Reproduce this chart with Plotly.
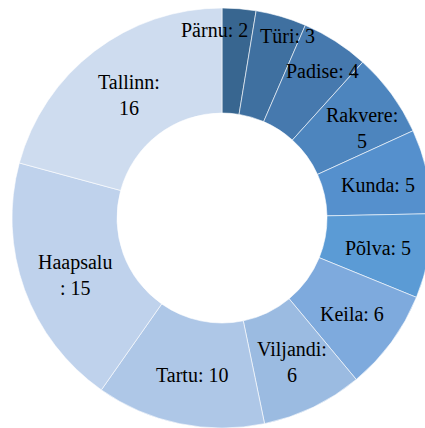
import math
import plotly.graph_objects as go

labels = ["Pärnu", "Türi", "Padise", "Rakvere", "Kunda", "Põlva", "Keila",
          "Viljandi", "Tartu", "Haapsalu", "Tallinn"]
values = [2, 3, 4, 5, 5, 5, 6, 6, 10, 15, 16]
colors = ["#386690", "#3F70A0", "#4679AE", "#4D85BE", "#5590CD", "#5B9BD5",
          "#7EAADD", "#9BBBE1", "#AEC7E7", "#BFD2EC", "#CEDCEF"]
# label text layout (line breaks as in the reference)
label_text = ["Pärnu: 2", "Türi: 3", "Padise: 4", "Rakvere:<br>5", "Kunda: 5",
              "Põlva: 5", "Keila: 6", "Viljandi:<br>6", "Tartu: 10",
              "Haapsalu<br>: 15", "Tallinn:<br>16"]
# per-label pixel nudges (dx, dy)
label_nudge = [(-20, -31), (21, -31), (15, -15), (13, 3), (2, 2), (1, 1),
               (3, 3), (2, 2), (2, 3), (1, 3), (3, 2)]

W, H = 444, 428
CX, CY, R, HOLE = 222, 218, 210, 0.5

fig = go.Figure(go.Pie(
    labels=labels, values=values, sort=False, direction="clockwise",
    rotation=0, hole=HOLE, textinfo="none", hoverinfo="label+value",
    marker=dict(colors=colors, line=dict(color="rgba(255,255,255,0.75)", width=0.8)),
    domain=dict(x=[0, 1], y=[0, (H - (CY - R)) / H]),
    showlegend=False,
))

total = sum(values)
cum = 0
rm = R * (1 + HOLE) / 2
for v, t, (dx, dy) in zip(values, label_text, label_nudge):
    mid = (cum + v / 2) / total * 2 * math.pi
    cum += v
    px = CX + rm * math.sin(mid) + dx
    py = CY - rm * math.cos(mid) + dy
    fig.add_annotation(x=px / W, y=1 - py / H, xref="paper", yref="paper",
                       text=t, showarrow=False, xanchor="center", yanchor="middle",
                       font=dict(family="Liberation Serif", size=20, color="black"))

fig.update_layout(width=W, height=H, autosize=False,
                  margin=dict(l=0, r=0, t=0, b=0),
                  paper_bgcolor="white", plot_bgcolor="white")

fig.write_html("out.html", config={"displayModeBar": False},
               post_script="document.body.style.margin='0';document.body.style.overflow='hidden';document.documentElement.style.overflow='hidden';")
